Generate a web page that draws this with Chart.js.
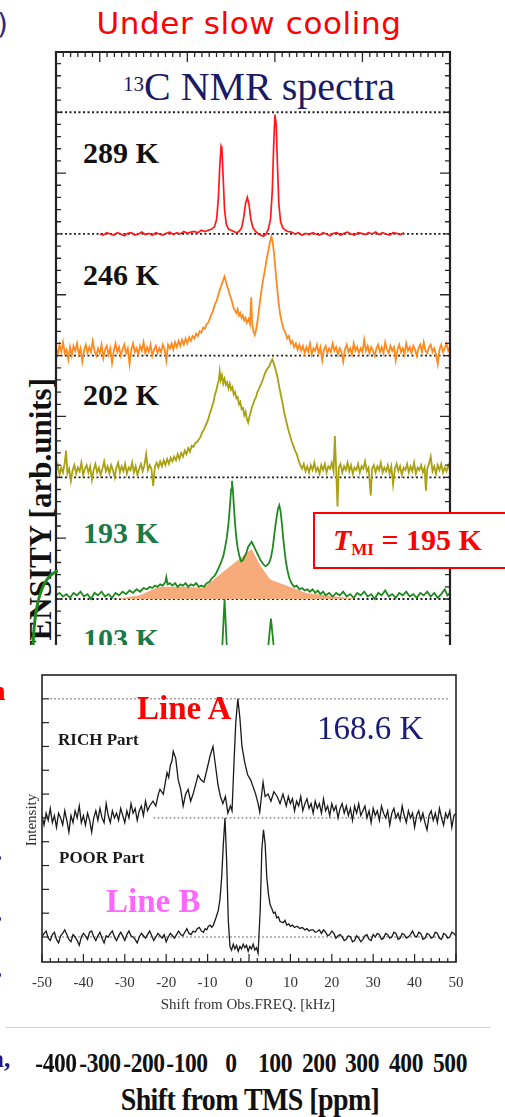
<!DOCTYPE html>
<html>
<head>
<meta charset="utf-8">
<script src="https://cdn.jsdelivr.net/npm/chart.js@4.4.0/dist/chart.umd.min.js"></script>
<style>
  html, body { margin: 0; padding: 0; background: #fff; }
  #page { position: relative; width: 505px; height: 1117px; overflow: hidden; background: #fff; }
  #topWrap { position: absolute; left: 0; top: 0; width: 505px; height: 645px; overflow: hidden; }
  canvas { position: absolute; left: 0; }
</style>
</head>
<body>
<div id="page">
  <div id="topWrap">
    <canvas id="topChart" width="505" height="645" style="top:0"></canvas>
  </div>
  <canvas id="botChart" width="505" height="320" style="top:660px"></canvas>
</div>
<script>
// 13C spectra, [shift ppm, intensity] ; each trace sits on its own baseline
const spec289 = [[-300,0.00],[-292,-0.01],[-284,0.01],[-276,0.00],[-268,-0.01],[-260,0.01],[-252,0.00],[-244,-0.015],[-236,0.005],[-228,0.01],[-220,-0.01],[-212,0.00],[-204,0.015],[-196,-0.005],[-188,0.005],[-180,-0.01],[-172,0.01],[-164,0.00],[-156,-0.01],[-148,0.005],[-140,0.015],[-132,-0.005],[-124,0.01],[-116,0.00],[-108,0.02],[-100,0.005],[-92,0.015],[-84,0.02],[-76,0.01],[-68,0.03],[-60,0.02],[-52,0.03],[-44,0.04],[-38,0.06],[-33,0.12],[-29,0.3],[-26,0.55],[-23,0.72],[-21,0.7],[-18,0.45],[-15,0.2],[-11,0.08],[-6,0.04],[0,0.03],[6,0.02],[12,0.01],[18,0.02],[24,0.05],[29,0.14],[33,0.25],[37,0.30],[41,0.24],[45,0.12],[50,0.05],[56,0.02],[62,0.0],[68,-0.01],[74,-0.02],[80,0.0],[85,0.04],[90,0.12],[94,0.35],[97,0.7],[100,0.98],[103,0.9],[106,0.55],[109,0.25],[113,0.1],[118,0.05],[124,0.03],[130,0.02],[138,0.015],[146,0.0],[154,0.01],[162,-0.01],[170,0.005],[178,-0.005],[186,0.01],[194,0.00],[202,-0.01],[210,0.01],[218,0.0],[226,-0.015],[234,0.005],[242,0.01],[250,-0.01],[258,0.005],[266,0.015],[274,0.0],[282,-0.01],[290,0.01],[298,0.005],[306,-0.005],[314,0.01],[322,0.0],[330,0.015],[338,-0.005],[346,0.01],[354,0.0],[362,-0.01],[370,0.01],[378,0.005],[386,-0.005],[395,0.01]];

const spec246 = [[-400,0.06],[-396,0.01],[-392,0.09],[-388,0.03],[-384,0.11],[-380,0.02],[-376,0.05],[-372,-0.03],[-368,0.07],[-364,0.0],[-360,0.08],[-356,0.04],[-352,0.1],[-348,0.01],[-344,0.06],[-340,-0.05],[-336,0.04],[-332,0.09],[-328,0.02],[-324,0.07],[-320,0.03],[-316,0.12],[-312,0.04],[-308,0.0],[-304,0.06],[-300,0.02],[-296,0.09],[-292,-0.02],[-288,0.05],[-284,0.08],[-280,0.01],[-276,0.06],[-272,-0.06],[-268,0.04],[-264,0.1],[-260,0.03],[-256,0.07],[-252,0.0],[-248,0.05],[-244,0.09],[-240,0.02],[-236,0.06],[-232,-0.07],[-228,0.05],[-224,0.1],[-220,0.03],[-216,0.06],[-212,0.01],[-208,0.08],[-204,0.04],[-200,0.11],[-196,0.02],[-192,0.07],[-188,0.03],[-184,0.09],[-180,0.0],[-176,0.05],[-172,0.08],[-168,0.02],[-164,0.06],[-160,0.03],[-156,0.09],[-152,0.05],[-148,-0.04],[-144,0.09],[-140,0.06],[-136,0.1],[-132,0.05],[-128,0.11],[-124,0.07],[-120,0.12],[-116,0.08],[-112,0.13],[-108,0.09],[-104,0.14],[-100,0.1],[-96,0.15],[-92,0.12],[-88,0.16],[-84,0.14],[-80,0.18],[-76,0.16],[-72,0.2],[-68,0.19],[-64,0.23],[-60,0.22],[-56,0.26],[-52,0.27],[-48,0.31],[-45,0.34],[-42,0.36],[-39,0.4],[-36,0.43],[-33,0.45],[-30,0.49],[-27,0.53],[-24,0.56],[-21,0.59],[-18,0.62],[-15,0.65],[-12,0.61],[-9,0.57],[-6,0.54],[-3,0.5],[0,0.47],[3,0.43],[6,0.39],[9,0.37],[12,0.35],[15,0.38],[18,0.33],[21,0.35],[24,0.31],[27,0.33],[30,0.29],[33,0.31],[36,0.27],[40,0.3],[43,0.26],[46,0.48],[48,0.26],[51,0.2],[54,0.17],[57,0.21],[61,0.3],[65,0.42],[69,0.53],[73,0.62],[77,0.7],[81,0.79],[85,0.86],[88,0.92],[92,0.98],[95,0.93],[98,0.84],[101,0.72],[104,0.6],[108,0.45],[112,0.34],[116,0.27],[120,0.22],[124,0.19],[128,0.14],[132,0.16],[136,0.1],[140,0.12],[144,0.07],[148,0.1],[152,0.05],[156,0.09],[160,0.04],[164,0.08],[168,0.02],[172,0.07],[176,0.03],[180,0.1],[184,0.01],[188,0.06],[192,0.04],[196,0.09],[200,0.02],[204,0.07],[208,-0.04],[212,0.05],[216,0.08],[220,0.02],[224,0.06],[228,0.03],[232,0.1],[236,0.04],[240,0.07],[244,0.01],[248,0.06],[252,0.03],[256,-0.05],[260,0.05],[264,0.09],[268,0.03],[272,0.06],[276,0.01],[280,0.1],[284,0.04],[288,0.07],[292,0.02],[296,0.06],[300,0.03],[304,0.13],[308,0.04],[312,0.08],[316,0.02],[320,0.07],[324,0.04],[328,0.0],[332,0.06],[336,0.09],[340,0.03],[344,0.07],[348,0.02],[352,0.11],[356,0.05],[360,0.02],[364,0.08],[368,0.04],[372,0.07],[376,-0.04],[380,0.05],[384,0.09],[388,0.03],[392,0.06],[396,0.01],[400,0.1],[404,0.04],[408,0.07],[412,0.02],[416,0.08],[420,0.05],[424,0.0],[428,0.06],[432,0.09],[436,0.03],[440,0.11],[444,0.04],[448,0.02],[452,0.07],[456,0.09],[460,0.03],[464,0.06],[468,0.01],[472,-0.07],[476,0.05],[480,0.09],[484,0.03],[488,0.06],[492,0.1],[496,0.04],[500,0.07]];

const spec202 = [[-400,0.05],[-396,0.1],[-392,0.02],[-388,0.08],[-384,0.04],[-380,0.12],[-377,0.22],[-374,0.03],[-370,0.07],[-366,-0.03],[-362,0.06],[-358,0.1],[-354,0.03],[-350,0.08],[-346,0.05],[-342,0.12],[-338,0.02],[-334,0.07],[-330,0.1],[-326,0.04],[-322,0.09],[-318,-0.02],[-314,0.06],[-310,0.11],[-306,0.04],[-302,0.08],[-298,0.02],[-294,0.07],[-290,0.13],[-286,0.05],[-282,0.09],[-278,0.03],[-274,0.1],[-270,0.06],[-266,0.0],[-262,0.08],[-258,0.12],[-254,0.04],[-250,0.09],[-246,0.05],[-242,0.11],[-238,0.03],[-234,0.08],[-230,0.06],[-226,0.12],[-222,0.04],[-218,0.09],[-214,0.02],[-210,0.07],[-206,0.11],[-202,0.05],[-198,0.1],[-194,0.19],[-190,0.06],[-186,0.1],[-182,0.07],[-178,-0.07],[-174,0.09],[-170,0.12],[-166,0.08],[-162,0.13],[-158,0.09],[-154,0.14],[-150,0.1],[-146,0.15],[-142,0.11],[-138,0.16],[-134,0.13],[-130,0.17],[-126,0.14],[-122,0.19],[-118,0.15],[-114,0.2],[-110,0.17],[-106,0.22],[-102,0.19],[-98,0.24],[-94,0.21],[-90,0.26],[-86,0.25],[-82,0.28],[-78,0.29],[-74,0.31],[-70,0.33],[-66,0.37],[-62,0.39],[-58,0.43],[-55,0.45],[-52,0.48],[-49,0.52],[-46,0.55],[-43,0.59],[-40,0.62],[-37,0.68],[-34,0.71],[-31,0.76],[-28,0.8],[-26,0.87],[-24,0.8],[-21,0.84],[-18,0.77],[-15,0.81],[-12,0.76],[-9,0.78],[-6,0.73],[-3,0.77],[0,0.72],[3,0.74],[6,0.68],[9,0.7],[12,0.65],[15,0.66],[18,0.6],[21,0.62],[24,0.56],[27,0.57],[30,0.51],[33,0.54],[36,0.48],[39,0.45],[42,0.5],[45,0.54],[48,0.58],[51,0.61],[54,0.64],[57,0.66],[60,0.7],[63,0.72],[66,0.75],[69,0.77],[72,0.8],[75,0.83],[78,0.86],[81,0.88],[84,0.9],[87,0.91],[90,0.94],[94,0.97],[98,0.93],[102,0.88],[106,0.82],[110,0.74],[114,0.67],[118,0.6],[122,0.52],[126,0.46],[130,0.4],[134,0.35],[138,0.3],[142,0.26],[146,0.22],[150,0.19],[154,0.14],[158,0.1],[162,0.07],[166,0.11],[170,0.05],[174,0.09],[178,0.04],[182,0.1],[186,0.06],[190,0.12],[194,0.05],[198,0.08],[202,0.03],[206,0.1],[210,0.06],[214,0.11],[218,0.04],[222,0.09],[226,0.07],[230,0.12],[234,0.05],[237,0.34],[240,0.06],[243,-0.24],[246,0.08],[250,0.11],[254,0.04],[258,0.09],[262,0.06],[266,0.12],[270,0.05],[274,0.1],[278,0.03],[282,0.08],[286,0.06],[290,0.11],[294,0.04],[298,0.09],[302,0.07],[306,0.13],[310,0.05],[314,0.08],[319,-0.15],[322,0.07],[326,0.1],[330,0.04],[334,0.09],[338,0.06],[342,0.12],[346,0.04],[350,0.08],[354,0.05],[358,0.1],[362,0.03],[366,0.09],[370,-0.06],[374,0.07],[378,0.11],[382,0.05],[386,0.09],[390,0.02],[394,0.08],[398,0.06],[402,0.11],[406,0.04],[410,0.09],[414,0.05],[418,0.12],[422,0.03],[426,0.08],[430,0.06],[434,0.1],[438,0.04],[442,0.08],[445,-0.11],[448,0.07],[452,0.11],[456,0.17],[460,0.05],[464,0.09],[468,0.03],[472,0.1],[476,0.06],[480,0.11],[484,0.04],[488,0.08],[492,0.05],[496,0.1],[500,0.06]];

const spec193 = [[-400,0.03],[-392,0.05],[-384,0.02],[-376,0.04],[-368,0.01],[-360,0.05],[-352,0.03],[-344,0.06],[-336,0.02],[-328,0.04],[-320,0.0],[-312,0.05],[-304,0.03],[-296,0.06],[-288,0.02],[-280,0.04],[-272,0.01],[-264,0.05],[-256,0.03],[-248,0.06],[-240,0.04],[-232,0.07],[-224,0.05],[-216,0.08],[-208,0.06],[-200,0.09],[-192,0.08],[-186,0.1],[-180,0.09],[-174,0.11],[-168,0.1],[-162,0.12],[-156,0.11],[-150,0.14],[-148,0.18],[-145,0.12],[-140,0.13],[-134,0.11],[-128,0.13],[-122,0.1],[-116,0.12],[-110,0.11],[-104,0.13],[-98,0.1],[-92,0.12],[-86,0.11],[-80,0.13],[-74,0.1],[-68,0.11],[-62,0.1],[-56,0.13],[-50,0.14],[-44,0.17],[-38,0.19],[-33,0.22],[-28,0.26],[-23,0.3],[-18,0.35],[-14,0.42],[-10,0.5],[-6,0.62],[-3,0.75],[0,0.9],[2,0.97],[4,0.9],[6,0.78],[9,0.62],[12,0.5],[15,0.42],[19,0.35],[23,0.31],[27,0.32],[31,0.35],[35,0.38],[39,0.43],[43,0.45],[47,0.47],[51,0.44],[55,0.41],[59,0.38],[63,0.35],[67,0.32],[71,0.3],[75,0.28],[79,0.27],[83,0.28],[87,0.3],[91,0.34],[95,0.42],[99,0.54],[103,0.65],[107,0.74],[110,0.77],[113,0.72],[116,0.62],[119,0.5],[122,0.4],[125,0.31],[129,0.23],[133,0.17],[138,0.13],[144,0.1],[150,0.11],[156,0.08],[162,0.09],[168,0.07],[174,0.08],[180,0.06],[186,0.08],[192,0.05],[198,0.07],[204,0.04],[210,0.06],[216,0.03],[224,0.05],[232,0.02],[240,0.05],[248,0.03],[256,0.06],[264,0.02],[272,0.04],[280,0.01],[288,0.05],[296,0.03],[304,0.06],[312,0.02],[320,0.04],[328,0.0],[336,0.05],[344,0.03],[352,0.07],[360,0.02],[368,0.04],[376,0.01],[384,0.05],[392,0.03],[400,0.06],[408,0.02],[416,0.04],[424,0.01],[432,0.05],[440,0.03],[448,0.06],[456,0.02],[464,0.05],[472,0.01],[480,0.04],[488,0.08],[494,0.03],[500,0.05]];

const fit193 = [[-263,0],[-209,0.03],[-171,0.09],[-156,0.1],[-110,0.1],[-64,0.09],[47,0.41],[66,0.28],[89,0.16],[172,0.05],[287,0]];

const spec103 = [[-400,0],[-28,0],[-24,0.3],[-20,0.62],[-15,1.0],[-10,0.62],[-6,0.3],[-2,0],[78,0],[81,0.3],[85,0.62],[91,0.84],[97,0.62],[101,0.3],[105,0],[500,0]];

// 168.6 K spectra, [shift kHz, intensity]
const richPart = [[-50,0.1],[-49.5,-0.3],[-49,0.2],[-48.5,-0.1],[-48,0.4],[-47.5,-0.2],[-47,0.1],[-46.5,-0.4],[-46,0.2],[-45.5,0.0],[-45,-0.3],[-44.5,0.3],[-44,-0.1],[-43.5,-0.6],[-43,0.1],[-42.5,-0.2],[-42,0.3],[-41.5,0.0],[-41,0.5],[-40.5,-0.2],[-40,0.1],[-39.5,-0.3],[-39,0.2],[-38.5,-0.1],[-38,-0.6],[-37.5,0.0],[-37,0.3],[-36.5,-0.1],[-36,0.4],[-35.5,0.0],[-35,-0.2],[-34.5,0.6],[-34,0.1],[-33.5,-0.2],[-33,0.3],[-32.5,0.0],[-32,0.2],[-31.5,-0.1],[-31,0.4],[-30.5,0.1],[-30,-0.2],[-29.5,0.3],[-29,0.0],[-28.5,0.6],[-28,0.2],[-27.5,0.4],[-27,-0.1],[-26.5,0.3],[-26,0.5],[-25.5,0.1],[-25,0.7],[-24.5,0.3],[-24,0.5],[-23.2,0.7],[-22.5,0.5],[-21.9,1.0],[-21.5,1.2],[-20.7,1.0],[-20.2,1.5],[-19.8,1.9],[-19.4,1.7],[-19,2.2],[-18.6,2.4],[-18.3,2.8],[-17.7,2.5],[-17.1,1.6],[-16.5,1.2],[-15.9,0.5],[-15.3,1.0],[-14.7,1.2],[-14.1,0.7],[-13.5,1.0],[-12.9,1.4],[-12.3,1.8],[-11.6,1.6],[-10.9,1.5],[-10.2,2.0],[-9.4,2.6],[-8.7,3.0],[-8.1,2.2],[-7.5,1.4],[-6.9,0.9],[-6.3,0.6],[-5.7,0.9],[-5.1,0.2],[-4.5,0.5],[-4.1,0.3],[-3.7,2.0],[-3.2,4.0],[-2.7,5.0],[-2.2,4.2],[-1.7,3.0],[-1.0,2.3],[-0.3,1.8],[0.4,1.6],[1.0,1.3],[1.6,1.0],[2.2,0.6],[2.6,0.25],[3.0,0.9],[3.4,1.5],[3.9,0.9],[4.6,1.0],[5.3,0.7],[6,1.1],[6.8,0.9],[7.5,0.6],[8.2,1.0],[9,0.5],[9.5,0.9],[10,0.6],[10.5,0.8],[11,0.3],[11.5,0.7],[12,0.5],[12.5,0.9],[13,0.3],[13.5,0.6],[14,0.8],[14.5,0.4],[15,0.6],[15.5,0.2],[16,0.7],[16.5,0.4],[17,0.6],[17.5,0.2],[18,0.8],[18.5,0.3],[19,0.5],[19.5,0.1],[20,0.6],[20.5,0.3],[21,0.5],[21.5,0.0],[22,0.4],[22.5,0.6],[23,0.2],[23.5,0.5],[24,0.1],[24.5,0.4],[25,-0.1],[25.5,0.5],[26,0.2],[26.5,0.6],[27,0.1],[27.5,0.3],[28,0.5],[28.5,0.0],[29,0.3],[29.5,-0.2],[30,0.4],[30.5,0.1],[31,0.3],[31.5,-0.1],[32,0.5],[32.5,0.2],[33,0.0],[33.5,0.3],[34,-0.3],[34.5,0.2],[35,0.4],[35.5,0.0],[36,0.2],[36.5,-0.1],[37,0.5],[37.5,0.1],[38,-0.2],[38.5,0.3],[39,0.0],[39.5,0.2],[40,-0.4],[40.5,0.1],[41,0.3],[41.5,-0.1],[42,0.2],[42.5,-0.2],[43,-0.5],[43.5,0.1],[44,0.3],[44.5,-0.1],[45,0.2],[45.5,-0.2],[46,0.4],[46.5,0.0],[47,-0.3],[47.5,0.2],[48,0.0],[48.5,0.3],[49,-0.4],[49.5,0.1],[50,0.2]];

const poorPart = [[-50,0.0],[-49.5,0.15],[-49,0.25],[-48.5,-0.05],[-48,-0.15],[-47.5,0.1],[-47,0.2],[-46.5,-0.1],[-46,-0.25],[-45.5,0.05],[-45,0.15],[-44.5,0.3],[-44,0.1],[-43.5,-0.1],[-43,-0.2],[-42.5,0.1],[-42,0.0],[-41.5,-0.15],[-41,-0.35],[-40.5,0.0],[-40,0.15],[-39.5,0.05],[-39,-0.1],[-38.5,0.2],[-38,0.25],[-37.5,0.0],[-37,-0.15],[-36.5,0.05],[-36,0.2],[-35.5,-0.05],[-35,-0.25],[-34.5,0.05],[-34,0.0],[-33.5,0.15],[-33,0.25],[-32.5,0.0],[-32,-0.15],[-31.5,0.05],[-31,0.2],[-30.5,0.05],[-30,-0.15],[-29.5,0.1],[-29,0.25],[-28.5,0.05],[-28,0.0],[-27.5,-0.1],[-27,-0.25],[-26.5,0.0],[-26,0.15],[-25.5,0.05],[-25,-0.05],[-24.5,0.1],[-24,0.25],[-23.5,0.05],[-23,-0.15],[-22.5,0.0],[-22,0.15],[-21.5,0.05],[-21,-0.05],[-20.5,0.1],[-20,-0.2],[-19.5,0.0],[-19,0.15],[-18.5,0.05],[-18,-0.05],[-17.5,0.1],[-17,0.25],[-16.5,0.1],[-16,0.05],[-15.5,0.2],[-15,0.35],[-14.5,0.15],[-14,0.1],[-13.5,0.25],[-13,0.2],[-12.5,0.35],[-12,0.4],[-11.5,0.25],[-11,0.2],[-10.6,0.35],[-10.2,0.3],[-9.8,0.45],[-9.4,0.5],[-9,0.4],[-8.6,0.5],[-8,0.8],[-7.4,1.13],[-7,1.6],[-6.6,2.5],[-6.2,3.9],[-5.8,5.0],[-5.4,3.2],[-5.0,0.7],[-4.6,-0.4],[-4.2,-0.55],[-3.8,-0.3],[-3.4,-0.5],[-3,-0.35],[-2.6,-0.6],[-2.2,-0.4],[-1.8,-0.5],[-1.4,-0.3],[-1,-0.45],[-0.6,-0.35],[-0.2,-0.6],[0.2,-0.4],[0.6,-0.5],[1,-0.3],[1.4,-0.55],[1.8,-0.45],[2.2,-0.68],[2.7,1.1],[3.1,3.66],[3.5,4.5],[3.9,3.9],[4.3,2.5],[4.7,1.8],[5.1,1.35],[5.5,1.2],[5.9,1.0],[6.3,1.05],[6.7,0.8],[7.1,0.85],[7.5,0.65],[8.3,0.6],[8.7,0.7],[9.1,0.5],[9.6,0.55],[10,0.45],[10.5,0.5],[11,0.4],[11.6,0.45],[12.3,0.36],[12.9,0.4],[13.5,0.3],[14,0.35],[14.5,0.25],[15,0.3],[15.5,0.3],[16,0.2],[16.4,0.22],[17,0.3],[17.5,0.15],[18,0.3],[18.5,0.2],[19,0.05],[19.5,0.1],[20,0.25],[20.5,0.15],[21,-0.05],[21.5,0.05],[22,0.1],[22.5,0.0],[23,-0.15],[23.5,-0.1],[24,0.05],[24.5,0.0],[25,-0.2],[25.5,-0.15],[26,0.05],[26.5,-0.05],[27,-0.2],[27.5,-0.1],[28,0.05],[28.5,0.1],[29,-0.1],[29.5,-0.15],[30,0.1],[30.5,0.0],[31,0.15],[31.5,0.1],[32,-0.1],[32.5,-0.05],[33,0.15],[33.5,0.1],[34,-0.05],[34.5,0.0],[35,0.2],[35.5,0.15],[36,-0.1],[36.5,-0.05],[37,0.15],[37.5,0.1],[38,-0.05],[38.5,0.0],[39,0.1],[39.5,0.25],[40,0.05],[40.5,0.0],[41,0.2],[41.5,0.15],[42,-0.1],[42.5,-0.05],[43,0.15],[43.5,0.1],[44,-0.05],[44.5,0.0],[45,0.2],[45.5,0.15],[46,-0.05],[46.5,-0.1],[47,0.15],[47.5,0.1],[48,-0.05],[48.5,0.0],[49,0.2],[49.5,0.15],[50,0.05]];

const ppmTicks = [-400, -300, -200, -100, 0, 100, 200, 300, 400, 500];
const khzTicks = [-50, -40, -30, -20, -10, 0, 10, 20, 30, 40, 50];
const tempLabels = ["289 K", "246 K", "202 K", "193 K", "103 K"];

const SERIF = "'Liberation Serif','Times New Roman',serif";
const SANS = "'DejaVu Sans','Liberation Sans',sans-serif";

function pts(pairs, offset) {
  return pairs.map(p => ({ x: p[0], y: p[1] + offset }));
}

function put(parent, html, x, base, size, css, center, extra) {
  const d = document.createElement("div");
  d.innerHTML = html;
  d.style.cssText = "position:absolute;white-space:nowrap;line-height:1;font-size:" + size + "px;" + css;
  const k = css.indexOf("DejaVu") >= 0 ? 0.93 : 0.8375;
  d.style.top = (base - k * size) + "px";
  d.style.left = x + "px";
  let tr = center ? "translateX(-50%)" : "";
  if (extra) tr += " " + extra;
  if (tr) d.style.transform = tr;
  parent.appendChild(d);
  return d;
}

const topFrame = {
  id: "topFrame",
  beforeDatasetsDraw(chart) {
    const { ctx, chartArea: a, scales } = chart;
    ctx.save();
    ctx.strokeStyle = "#222";
    ctx.lineWidth = 1.8;
    ctx.setLineDash([2, 2.5]);
    [0, 1, 2, 3, 4].forEach(v => {
      const y = scales.y.getPixelForValue(v);
      ctx.beginPath();
      ctx.moveTo(a.left, y);
      ctx.lineTo(a.right, y);
      ctx.stroke();
    });
    ctx.restore();
  },
  afterDatasetsDraw(chart) {
    const { ctx, chartArea: a, scales } = chart;
    ctx.save();
    ctx.strokeStyle = "#2a2a2a";
    ctx.lineWidth = 1.3;
    // left / right inward ticks
    for (let i = -3; i <= 44; i++) {
      const y = scales.y.getPixelForValue(i / 10);
      const len = (i % 10 === 5) ? 10 : 5;
      ctx.beginPath();
      ctx.moveTo(a.left, y); ctx.lineTo(a.left + len, y);
      ctx.moveTo(a.right, y); ctx.lineTo(a.right - len, y);
      ctx.stroke();
    }
    // top ticks
    for (let i = 0; i <= 54; i++) {
      const x = scales.x.getPixelForValue(-400 + i * 200 / 12);
      const len = (i % 12 === 6) ? 10 : 5;
      ctx.beginPath();
      ctx.moveTo(x, a.top); ctx.lineTo(x, a.top + len);
      ctx.stroke();
    }
    // frame
    ctx.lineWidth = 2.2;
    ctx.strokeStyle = "#222";
    ctx.beginPath();
    ctx.moveTo(a.left, a.bottom + 2);
    ctx.lineTo(a.left, a.top);
    ctx.lineTo(a.right, a.top);
    ctx.lineTo(a.right, a.bottom + 2);
    ctx.stroke();
    // green arrow arc on the left
    ctx.strokeStyle = "#1f8a1f";
    ctx.lineWidth = 3;
    ctx.beginPath();
    ctx.moveTo(58, 571);
    ctx.quadraticCurveTo(35, 578, 33, 648);
    ctx.stroke();
    ctx.restore();
  }
};

const botFrame = {
  id: "botFrame",
  beforeDatasetsDraw(chart) {
    const { ctx, scales } = chart;
    ctx.save();
    ctx.strokeStyle = "#444";
    ctx.lineWidth = 1;
    ctx.setLineDash([1.5, 2.5]);
    [[10, -48], [5, -23], [0, -48]].forEach(([v, from]) => {
      const y = scales.y.getPixelForValue(v);
      ctx.beginPath();
      ctx.moveTo(scales.x.getPixelForValue(from), y);
      ctx.lineTo(scales.x.getPixelForValue(48.5), y);
      ctx.stroke();
    });
    ctx.restore();
  },
  afterDatasetsDraw(chart) {
    const { ctx, chartArea: a, scales } = chart;
    ctx.save();
    ctx.strokeStyle = "#222";
    ctx.lineWidth = 1.2;
    for (let v = 0; v <= 10; v++) {
      const y = scales.y.getPixelForValue(v);
      ctx.beginPath();
      ctx.moveTo(a.left, y); ctx.lineTo(a.left + 7, y);
      ctx.stroke();
    }
    for (let v = -50; v <= 50; v += 2) {
      const x = scales.x.getPixelForValue(v);
      const len = v % 10 === 0 ? 8 : 4;
      ctx.beginPath();
      ctx.moveTo(x, a.bottom); ctx.lineTo(x, a.bottom - len);
      ctx.stroke();
    }
    ctx.lineWidth = 1.6;
    ctx.strokeRect(a.left, a.top, a.right - a.left, a.bottom - a.top);
    ctx.restore();
  }
};

const lineDs = (label, data, color, width) => ({
  label, data, borderColor: color, borderWidth: width, pointRadius: 0, tension: 0, fill: false
});

const topChart = new Chart(document.getElementById("topChart"), {
  type: "line",
  data: {
    datasets: [
      lineDs("289 K", pts(spec289, 3), "#ff1a1a", 1.7),
      lineDs("246 K", pts(spec246, 2), "#ff8a1e", 1.8),
      lineDs("202 K", pts(spec202, 1), "#a9a012", 1.8),
      lineDs("193 K", pts(spec193, 0), "#1f8a1f", 1.8),
      lineDs("103 K", pts(spec103, -1), "#1f8a1f", 1.8),
      { label: "fit", data: pts(fit193, 0), borderColor: "rgba(0,0,0,0)", borderWidth: 0,
        backgroundColor: "rgb(247,170,122)", fill: "origin", pointRadius: 0, tension: 0, order: 10 }
    ]
  },
  options: {
    responsive: false,
    animation: false,
    devicePixelRatio: 1,
    layout: { padding: { left: 56, right: 55, top: 52, bottom: 0 } },
    scales: {
      x: { type: "linear", min: -400, max: 500, display: false },
      y: { min: -0.378, max: 4.495, display: false }
    },
    plugins: { legend: { display: false }, tooltip: { enabled: false } }
  },
  plugins: [topFrame]
});

const botChart = new Chart(document.getElementById("botChart"), {
  type: "line",
  data: {
    datasets: [
      lineDs("RICH Part", pts(richPart, 5), "#1a1a1a", 1.3),
      lineDs("POOR Part", pts(poorPart, 0), "#1a1a1a", 1.3)
    ]
  },
  options: {
    responsive: false,
    animation: false,
    devicePixelRatio: 1,
    layout: { padding: { left: 42, right: 49, top: 15, bottom: 18 } },
    scales: {
      x: { type: "linear", min: -50, max: 50, display: false },
      y: { min: -1.05, max: 11.0, display: false }
    },
    plugins: { legend: { display: false }, tooltip: { enabled: false } }
  },
  plugins: [botFrame]
});

// ---- text ----
const page = document.getElementById("page");
const topWrap = document.getElementById("topWrap");

put(page, ")", -3, 37, 28, "font-family:" + SANS + ";color:#2a2a80;");
put(page, "Under slow cooling", 249, 37, 31, "font-family:" + SANS + ";color:#ff0000;letter-spacing:0.6px;", true);
put(topWrap, "<span style='font-size:21px;position:relative;top:-9px'>13</span>C NMR spectra", 259, 100, 40,
  "font-family:" + SERIF + ";color:#1a1a66;", true);

const labelBase = [163, 285, 405, 543, 649];
tempLabels.forEach((t, i) => {
  const c = i >= 3 ? "#1a7a48" : "#111";
  put(topWrap, t, 83, labelBase[i], 30, "font-family:" + SERIF + ";font-weight:bold;color:" + c + ";");
});

// rotated axis title (cropped)
const yt = put(topWrap, "INTENSITY [arb.units]", 25, 0, 31,
  "font-family:" + SERIF + ";font-weight:bold;color:#111;width:420px;text-align:right;transform-origin:0 0;");
yt.style.top = "798px";
yt.style.transform = "rotate(-90deg)";
yt.style.zIndex = "0";
document.getElementById("topChart").style.zIndex = "1";

const box = document.createElement("div");
box.style.cssText = "position:absolute;left:313px;top:512px;width:200px;height:53px;border:2px solid #ff0000;background:#fff;z-index:2;";
topWrap.appendChild(box);
put(box, "<i>T</i><span style='font-size:17px;position:relative;top:5px'>MI</span> = 195 K", 18, 36, 30,
  "font-family:" + SERIF + ";font-weight:bold;color:#ff0000;");

// fragments at left edge
put(page, "n", -10, 700, 28, "font-family:" + SERIF + ";font-weight:bold;color:#ff0000;");
[858, 919, 975].forEach(b => put(page, ",", -3, b, 22, "font-family:" + SERIF + ";color:#2a2a90;"));
put(page, "a,", -9, 1068, 26, "font-family:" + SERIF + ";font-weight:bold;color:#1a1a80;");

// lower chart labels
put(page, "Line A", 137, 720, 33, "font-family:" + SERIF + ";font-weight:bold;color:#ff0000;");
put(page, "168.6 K", 317, 740, 33, "font-family:" + SERIF + ";color:#1a1a78;");
put(page, "RICH Part", 58, 745, 17, "font-family:" + SERIF + ";font-weight:bold;color:#1a1a1a;");
put(page, "POOR Part", 59, 863, 17, "font-family:" + SERIF + ";font-weight:bold;color:#1a1a1a;");
put(page, "Line B", 106, 913, 33, "font-family:" + SERIF + ";font-weight:bold;color:#ff66ff;");
const it = put(page, "Intensity", 24.4, 0, 15,
  "font-family:" + SERIF + ";color:#333;width:100px;text-align:center;transform-origin:0 0;");
it.style.top = "870px";
it.style.transform = "rotate(-90deg)";

khzTicks.forEach(v => {
  put(page, String(v), botChart.scales.x.getPixelForValue(v), 988, 15, "font-family:" + SERIF + ";color:#333;", true);
});
put(page, "Shift from Obs.FREQ. [kHz]", 248, 1010, 15, "font-family:" + SERIF + ";color:#333;", true);

const sep = document.createElement("div");
sep.style.cssText = "position:absolute;left:6px;top:1027px;width:484px;height:1px;background:#d0d0d0;";
page.appendChild(sep);

ppmTicks.forEach(v => {
  put(page, String(v), topChart.scales.x.getPixelForValue(v), 1072, 28,
    "font-family:" + SERIF + ";font-weight:bold;color:#111;letter-spacing:-0.5px;", true, "scaleX(0.84)");
});
put(page, "Shift from TMS [ppm]", 250, 1110, 31, "font-family:" + SERIF + ";font-weight:bold;color:#111;letter-spacing:-0.6px;", true, "scaleX(0.9)");
</script>
</body>
</html>
